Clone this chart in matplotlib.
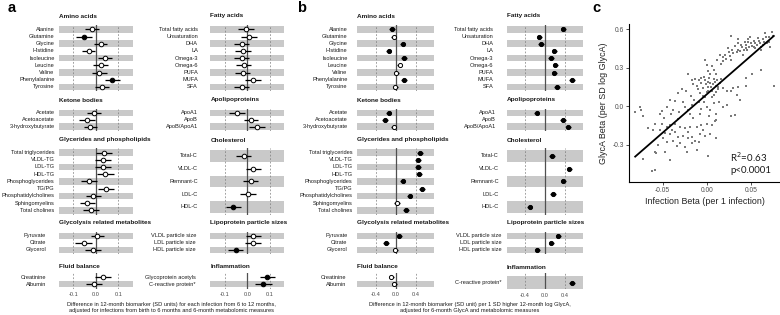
import matplotlib
matplotlib.use('Agg')
import matplotlib.pyplot as plt
import matplotlib.transforms as mtrans
import numpy as np

plt.rcParams['font.family'] = ['Liberation Sans', 'DejaVu Sans']

# ---------------- data: panel a / b ----------------
amino_labels = ['Alanine', 'Glutamine', 'Glycine', 'Histidine', 'Isoleucine', 'Leucine', 'Valine', 'Phenylalanine', 'Tyrosine']
amino_a = [-0.016, -0.052, 0.022, -0.031, 0.041, 0.022, 0.016, 0.074, 0.028]
amino_a_ci = [0.030, 0.036, 0.030, 0.030, 0.033, 0.032, 0.033, 0.033, 0.033]
amino_a_sig = [0, 1, 0, 0, 0, 0, 0, 1, 0]
amino_b = [-0.066, -0.04, 0.14, -0.14, 0.17, 0.08, 0.015, 0.17, -0.005]
amino_b_ci = [0.055, 0.055, 0.055, 0.055, 0.055, 0.055, 0.055, 0.055, 0.055]
amino_b_sig = [1, 0, 1, 1, 1, 0, 0, 1, 0]

ketone_labels = ['Acetate', 'Acetoacetate', '3-hydroxybutyrate']
ketone_a = [-0.008, -0.037, -0.024]
ketone_a_ci = [0.030, 0.036, 0.030]
ketone_a_sig = [0, 0, 0]
ketone_b = [-0.14, -0.206, -0.04]
ketone_b_ci = [0.055, 0.055, 0.055]
ketone_b_sig = [1, 1, 0]

glyc_labels = ['Total triglycerides', 'VLDL-TG', 'LDL-TG', 'HDL-TG', 'Phosphoglycerides', 'TG/PG',
               'Phosphatidylcholines', 'Sphingomyelins', 'Total cholines']
glyc_a = [0.038, 0.034, 0.033, 0.043, -0.028, 0.047, -0.010, -0.037, -0.022]
glyc_a_ci = [0.036, 0.035, 0.036, 0.036, 0.035, 0.035, 0.035, 0.033, 0.035]
glyc_a_sig = [0, 0, 0, 0, 0, 0, 0, 0, 0]
glyc_b = [0.49, 0.45, 0.45, 0.47, 0.14, 0.53, 0.28, 0.03, 0.21]
glyc_b_ci = [0.055, 0.055, 0.055, 0.055, 0.055, 0.055, 0.055, 0.055, 0.055]
glyc_b_sig = [1, 1, 1, 1, 1, 1, 1, 0, 1]

glycol_labels = ['Pyruvate', 'Citrate', 'Glycerol']
glycol_a = [0.007, -0.054, -0.012]
glycol_a_ci = [0.028, 0.036, 0.036]
glycol_a_sig = [0, 0, 0]
glycol_b = [0.074, -0.186, -0.005]
glycol_b_ci = [0.055, 0.055, 0.055]
glycol_b_sig = [1, 1, 0]

fluid_labels = ['Creatinine', 'Albumin']
fluid_a = [0.031, -0.006]
fluid_a_ci = [0.036, 0.035]
fluid_a_sig = [0, 0]
fluid_b = [-0.085, -0.025]
fluid_b_ci = [0.055, 0.055]
fluid_b_sig = [0, 0]

fatty_labels = ['Total fatty acids', 'Unsaturation', 'DHA', 'LA', 'Omega-3', 'Omega-6', 'PUFA', 'MUFA', 'SFA']
fatty_a = [-0.006, 0.006, -0.025, -0.018, -0.025, -0.016, -0.021, 0.024, -0.025]
fatty_a_ci = [0.035, 0.035, 0.033, 0.035, 0.033, 0.034, 0.034, 0.035, 0.034]
fatty_a_sig = [0, 0, 0, 0, 0, 0, 0, 0, 0]
fatty_b = [0.37, -0.11, -0.08, 0.19, 0.12, 0.21, 0.19, 0.54, 0.24]
fatty_b_ci = [0.055, 0.055, 0.055, 0.055, 0.055, 0.055, 0.055, 0.055, 0.055]
fatty_b_sig = [1, 1, 1, 1, 1, 1, 1, 1, 1]

apo_labels = ['ApoA1', 'ApoB', 'ApoB/ApoA1']
apo_a = [-0.047, 0.016, 0.043]
apo_a_ci = [0.036, 0.033, 0.034]
apo_a_sig = [0, 0, 0]
apo_b = [-0.17, 0.36, 0.47]
apo_b_ci = [0.055, 0.055, 0.055]
apo_b_sig = [1, 1, 1]

chol_labels = ['Total-C', 'VLDL-C', 'Remnant-C', 'LDL-C', 'HDL-C']
chol_a = [-0.016, 0.027, 0.015, 0.002, -0.062]
chol_a_ci = [0.034, 0.035, 0.034, 0.035, 0.035]
chol_a_sig = [0, 0, 0, 0, 1]
chol_b = [0.14, 0.49, 0.37, 0.16, -0.31]
chol_b_ci = [0.055, 0.055, 0.055, 0.055, 0.055]
chol_b_sig = [1, 1, 1, 1, 1]

size_labels = ['VLDL particle size', 'LDL particle size', 'HDL particle size']
size_a = [0.027, 0.024, -0.052]
size_a_ci = [0.035, 0.035, 0.034]
size_a_sig = [0, 0, 1]
size_b = [0.27, 0.13, -0.15]
size_b_ci = [0.055, 0.055, 0.055]
size_b_sig = [1, 1, 1]

infl_a_labels = ['Glycoprotein acetyls', 'C-reactive protein*']
infl_a = [0.089, 0.070]
infl_a_ci = [0.035, 0.037]
infl_a_sig = [1, 1]
infl_b_labels = ['C-reactive protein*']
infl_b = [0.54]
infl_b_ci = [0.055]
infl_b_sig = [1]

# ---------------- data: panel c ----------------
c_infection_beta = [
    0.028, 0.049, 0.036, 0.039, 0.044, 0.047, 0.050, 0.053, 0.055, 0.059, 0.064, 0.067, 0.070, 0.074, 0.075,
    0.064, 0.068, 0.061, 0.053, 0.045, 0.042, 0.038, 0.034, 0.030, 0.025, 0.021, 0.015, 0.022, 0.018, 0.028,
    0.061, 0.051, 0.076, 0.045, -0.002, 0.001, 0.004, 0.007, 0.009, 0.002, -0.004, 0.006, 0.011, 0.000,
    -0.008, -0.002, 0.006, 0.013, 0.015, 0.019, 0.023, 0.027, 0.030, 0.036, 0.044, 0.034, 0.038, 0.032,
    -0.021, -0.017, -0.013, -0.009, -0.006, -0.011, -0.023, -0.028, -0.002, 0.000, 0.006, 0.008, 0.011, 0.002,
    -0.081, -0.076, -0.074, -0.072, -0.051, -0.042, -0.038, -0.036, -0.025, -0.021, -0.017, -0.009, -0.006,
    0.000, 0.004, 0.008, 0.019, 0.023, 0.028, 0.011,
    -0.053, -0.040, -0.019, -0.008, -0.059, -0.051, -0.045, -0.042, -0.036, -0.030, -0.025, -0.019, -0.011,
    -0.006, 0.000, 0.006, 0.009, 0.011, -0.061, -0.053, -0.047, -0.042, -0.036, -0.032, -0.027, -0.021, -0.013,
    -0.008, -0.002, 0.004, -0.045, -0.038, -0.030, -0.025, -0.017, -0.011, 0.002, -0.042, -0.059, -0.057,
    -0.047, -0.072, -0.062, -0.059,
    0.032, 0.035, 0.040, 0.043, 0.046, 0.048, 0.051, 0.055, 0.057, 0.060, 0.062, 0.065, 0.071, 0.026, 0.029,
    0.019, 0.024, 0.041, 0.047, 0.058, 0.072, 0.066, 0.036, 0.012, 0.016,
    -0.003, 0.003, 0.008, 0.012, -0.001, 0.005, 0.010, -0.006, 0.002, 0.008, -0.004, 0.013, 0.016, -0.010,
    0.004, -0.015,
    -0.032, -0.018, -0.014, -0.027, -0.003, 0.014, -0.045, -0.031,
    -0.048, -0.033, -0.015, 0.003, -0.066, -0.039, -0.021, -0.004, -0.050, -0.017, -0.034, -0.009, -0.022,
    -0.055, 0.010]
c_glyca_beta = [
    0.55, 0.54, 0.49, 0.48, 0.48, 0.50, 0.49, 0.51, 0.49, 0.51, 0.52, 0.54, 0.54, 0.58, 0.55,
    0.48, 0.49, 0.46, 0.46, 0.45, 0.44, 0.43, 0.42, 0.41, 0.42, 0.40, 0.40, 0.37, 0.35, 0.36,
    0.28, 0.25, 0.16, 0.22, 0.20, 0.19, 0.18, 0.17, 0.19, 0.15, 0.14, 0.12, 0.11, 0.11,
    0.10, 0.07, 0.07, 0.15, 0.18, 0.14, 0.12, 0.12, 0.14, 0.15, 0.16, 0.09, 0.05, -0.07,
    0.25, 0.20, 0.21, 0.20, 0.22, 0.16, 0.12, 0.13, 0.36, 0.32, 0.31, 0.28, 0.25, 0.27,
    -0.05, -0.01, -0.03, -0.08, -0.04, 0.05, -0.03, 0.04, -0.01, -0.03, 0.01, 0.03, -0.02,
    -0.01, -0.03, 0.02, -0.01, 0.01, -0.08, -0.06,
    -0.06, -0.06, -0.06, -0.06, -0.14, -0.14, -0.16, -0.15, -0.14, -0.16, -0.17, -0.16, -0.16,
    -0.15, -0.14, -0.15, -0.12, -0.11, -0.19, -0.19, -0.21, -0.22, -0.20, -0.24, -0.23, -0.25, -0.27,
    -0.22, -0.23, -0.22, -0.28, -0.27, -0.29, -0.32, -0.29, -0.34, -0.39, -0.42, -0.36, -0.37,
    -0.36, -0.41, -0.51, -0.50,
    0.47, 0.44, 0.46, 0.50, 0.44, 0.46, 0.47, 0.45, 0.48, 0.49, 0.44, 0.50, 0.50, 0.39, 0.44,
    0.38, 0.45, 0.40, 0.52, 0.53, 0.46, 0.57, 0.52, 0.36, 0.33,
    0.23, 0.22, 0.21, 0.20, 0.17, 0.15, 0.16, 0.18, 0.12, 0.09, 0.08, 0.13, 0.21, 0.13,
    0.25, 0.17,
    0.10, 0.08, 0.05, 0.03, 0.03, 0.03, -0.01, -0.05,
    -0.09, -0.10, -0.09, -0.08, -0.17, -0.19, -0.20, -0.19, -0.25, -0.24, -0.31, -0.28, -0.36,
    -0.30, -0.25]

W, H = 780, 315
fig = plt.figure(figsize=(7.8, 3.15), dpi=100)


def px_axes(x0, y0, x1, y1):
    return fig.add_axes([x0 / W, 1 - y1 / H, (x1 - x0) / W, (y1 - y0) / H])


BAND = '#c9c9c9'
LAB_FS = 4.1
HEAD_FS = 4.6


def facet(box, labels, est, ci, sig, xlim, dash, label_x, header, header_y,
          ticks=None, ylim=None, ms=3.3, elw=0.9):
    x0, y0, x1, y1 = box
    ax = px_axes(x0, y0, x1, y1)
    n = len(labels)
    ys = [n - 1 - i for i in range(n)]
    for y in ys:
        if y % 2 == 0:
            ax.axhspan(y - 0.45, y + 0.45, color=BAND, lw=0, zorder=0)
    for d in dash:
        ax.axvline(d, color='#7a7a7a', lw=0.5, ls=(0, (2.5, 2.5)), zorder=1)
    ax.axvline(0, color='#505050', lw=0.9, zorder=1)
    for y, e, c, s in zip(ys, est, ci, sig):
        ax.plot([e - c, e + c], [y, y], color='black', lw=elw, zorder=2, solid_capstyle='butt')
        ax.plot([e], [y], marker='o', ms=ms, mec='black', mew=0.7,
                mfc='black' if s else 'white', zorder=3)
    ax.set_xlim(*xlim)
    if ylim is None:
        ax.set_ylim(-0.6, n - 1 + 0.6)
    else:
        ax.set_ylim(*ylim)
    for sp in ax.spines.values():
        sp.set_visible(False)
    ax.set_yticks([])
    if ticks is None:
        ax.set_xticks([])
    else:
        ax.set_xticks(ticks[0])
        ax.set_xticklabels(ticks[1])
        ax.tick_params(axis='x', length=0, pad=2.6, labelsize=LAB_FS, labelcolor='#4a4a4a')
    tr = mtrans.blended_transform_factory(fig.transFigure, ax.transData)
    for y, lab in zip(ys, labels):
        ax.text(label_x / W, y, lab, transform=tr, ha='right', va='center',
                fontsize=LAB_FS, color='#1a1a1a')
    fig.text(x0 / W, 1 - header_y / H, header, ha='left', va='center',
             fontsize=HEAD_FS, fontweight='bold', color='#1a1a1a')
    return ax


# vertical boxes for facet rows
R1 = (25.0, 91.3)
R2 = (108.8, 130.6)
R3 = (148.2, 214.6)
R4 = (231.9, 253.7)
R5 = (273.0, 288.5)
HY = [16, 100, 140, 222.7, 266.3]

# panel a geometry
AL = (58.7, 132.7)
AR = (210.4, 284.4)
axl = (-0.164, 0.164)
adash = [-0.1, 0.1]
aticks = ([-0.1, 0.0, 0.1], ['-0.1', '0.0', '0.1'])

facet((AL[0], R1[0], AL[1], R1[1]), amino_labels, amino_a, amino_a_ci, amino_a_sig, axl, adash, 54.5, 'Amino acids', HY[0])
facet((AL[0], R2[0], AL[1], R2[1]), ketone_labels, ketone_a, ketone_a_ci, ketone_a_sig, axl, adash, 54.5, 'Ketone bodies', HY[1])
facet((AL[0], R3[0], AL[1], R3[1]), glyc_labels, glyc_a, glyc_a_ci, glyc_a_sig, axl, adash, 54.5, 'Glycerides and phospholipids', HY[2])
facet((AL[0], R4[0], AL[1], R4[1]), glycol_labels, glycol_a, glycol_a_ci, glycol_a_sig, axl, adash, 46.0, 'Glycolysis related metabolites', HY[3])
facet((AL[0], R5[0], AL[1], R5[1]), fluid_labels, fluid_a, fluid_a_ci, fluid_a_sig, axl, adash, 46.0, 'Fluid balance', HY[4], ticks=aticks)

facet((AR[0], R1[0], AR[1], R1[1]), fatty_labels, fatty_a, fatty_a_ci, fatty_a_sig, axl, adash, 198, 'Fatty acids', HY[0])
facet((AR[0], R2[0], AR[1], R2[1]), apo_labels, apo_a, apo_a_ci, apo_a_sig, axl, adash, 198, 'Apolipoproteins', HY[1])
facet((AR[0], R3[0], AR[1], R3[1]), chol_labels, chol_a, chol_a_ci, chol_a_sig, axl, adash, 198, 'Cholesterol', HY[2])
facet((AR[0], R4[0], AR[1], R4[1]), size_labels, size_a, size_a_ci, size_a_sig, axl, adash, 196, 'Lipoprotein particle sizes', HY[3])
facet((AR[0], R5[0], AR[1], R5[1]), infl_a_labels, infl_a, infl_a_ci, infl_a_sig, axl, adash, 196, 'Inflammation', HY[4], ticks=aticks)

fig.text(171.5 / W, 1 - 304.3 / H,
         'Difference in 12-month biomarker (SD units) for each infection from 6 to 12 months,',
         ha='center', va='center', fontsize=LAB_FS, color='#1a1a1a')
fig.text(171.5 / W, 1 - 310.5 / H,
         'adjusted for infections from birth to 6 months and 6-month metabolomic measures',
         ha='center', va='center', fontsize=LAB_FS, color='#1a1a1a')

# panel b geometry
BL = (357.0, 433.6)
BR = (506.7, 582.7)
bxl = (-0.77, 0.76)
bdash = [-0.4, 0.4]
bticks = ([-0.4, 0.0, 0.4], ['-0.4', '0.0', '0.4'])
bms = 3.0
belw = 1.0

facet((BL[0], R1[0], BL[1], R1[1]), amino_labels, amino_b, amino_b_ci, amino_b_sig, bxl, bdash, 347.5, 'Amino acids', HY[0], ms=bms, elw=belw)
facet((BL[0], R2[0], BL[1], R2[1]), ketone_labels, ketone_b, ketone_b_ci, ketone_b_sig, bxl, bdash, 347.5, 'Ketone bodies', HY[1], ms=bms, elw=belw)
facet((BL[0], R3[0], BL[1], R3[1]), glyc_labels, glyc_b, glyc_b_ci, glyc_b_sig, bxl, bdash, 352.7, 'Glycerides and phospholipids', HY[2], ms=bms, elw=belw)
facet((BL[0], R4[0], BL[1], R4[1]), glycol_labels, glycol_b, glycol_b_ci, glycol_b_sig, bxl, bdash, 347.3, 'Glycolysis related metabolites', HY[3], ms=bms, elw=belw)
facet((BL[0], R5[0], BL[1], R5[1]), fluid_labels, fluid_b, fluid_b_ci, fluid_b_sig, bxl, bdash, 346.7, 'Fluid balance', HY[4], ticks=bticks, ms=bms, elw=belw)

facet((BR[0], R1[0], BR[1], R1[1]), fatty_labels, fatty_b, fatty_b_ci, fatty_b_sig, bxl, bdash, 493.5, 'Fatty acids', HY[0], ms=bms, elw=belw)
facet((BR[0], R2[0], BR[1], R2[1]), apo_labels, apo_b, apo_b_ci, apo_b_sig, bxl, bdash, 496.0, 'Apolipoproteins', HY[1], ms=bms, elw=belw)
facet((BR[0], R3[0], BR[1], R3[1]), chol_labels, chol_b, chol_b_ci, chol_b_sig, bxl, bdash, 499.0, 'Cholesterol', HY[2], ms=bms, elw=belw)
facet((BR[0], R4[0], BR[1], R4[1]), size_labels, size_b, size_b_ci, size_b_sig, bxl, bdash, 501.5, 'Lipoprotein particle sizes', HY[3], ms=bms, elw=belw)
facet((BR[0], 272.5, BR[1], 289.0), infl_b_labels, infl_b, infl_b_ci, infl_b_sig, bxl, bdash, 502.0, 'Inflammation', HY[4] + 0.8,
      ticks=bticks, ylim=(-0.47, 0.73), ms=bms, elw=belw)

fig.text(470 / W, 1 - 304.3 / H,
         'Difference in 12-month biomarker (SD unit) per 1 SD higher 12-month log GlycA,',
         ha='center', va='center', fontsize=LAB_FS, color='#1a1a1a')
fig.text(470 / W, 1 - 310.5 / H,
         'adjusted for 6-month GlycA and metabolomic measures',
         ha='center', va='center', fontsize=LAB_FS, color='#1a1a1a')

# panel c
axc = px_axes(629, 24, 780, 181.7)
cx = np.array(c_infection_beta)
cy = np.array(c_glyca_beta)
axc.scatter(cx, cy, marker='s', s=4.5, color='#7a7a7a', linewidths=0, zorder=2)
k, b0 = np.polyfit(cx, cy, 1)
xs = np.array([cx.min(), cx.max()])
axc.plot(xs, k * xs + b0, color='black', lw=1.3, zorder=3)
axc.set_xlim(-0.088, 0.083)
axc.set_ylim(-0.59, 0.64)
axc.set_xticks([-0.05, 0.0, 0.05])
axc.set_xticklabels(['-0.05', '0.00', '0.05'])
axc.set_yticks([-0.3, 0.0, 0.3, 0.6])
axc.set_yticklabels(['-0.3', '0.0', '0.3', '0.6'])
axc.tick_params(length=2.2, width=0.6, color='#333333', labelsize=4.8, labelcolor='#4d4d4d', pad=1.5)
for s in ['top', 'right']:
    axc.spines[s].set_visible(False)
for s in ['left', 'bottom']:
    axc.spines[s].set_linewidth(0.8)
axc.set_xlabel('Infection Beta (per 1 infection)', fontsize=6.4, color='#222222', labelpad=2)
axc.set_ylabel('GlycA Beta (per SD log GlycA)', fontsize=6.4, color='#222222', labelpad=3)
axc.text(730 / W, 1 - 157 / H, 'R$^2$=0.63', transform=fig.transFigure, ha='left', va='center',
         fontsize=7, family=['Lato', 'DejaVu Sans'], color='#1a1a1a')
axc.text(730 / W, 1 - 170.7 / H, 'p<0.0001', transform=fig.transFigure, ha='left', va='center',
         fontsize=7, family=['Lato', 'DejaVu Sans'], color='#1a1a1a')

# panel letters
fig.text(12 / W, 1 - 8 / H, 'a', ha='center', va='center', fontsize=10.5, fontweight='bold')
fig.text(302 / W, 1 - 8 / H, 'b', ha='center', va='center', fontsize=10.5, fontweight='bold')
fig.text(596 / W, 1 - 8 / H, 'c', ha='center', va='center', fontsize=10.5, fontweight='bold')

fig.savefig('out.png', dpi=100)
